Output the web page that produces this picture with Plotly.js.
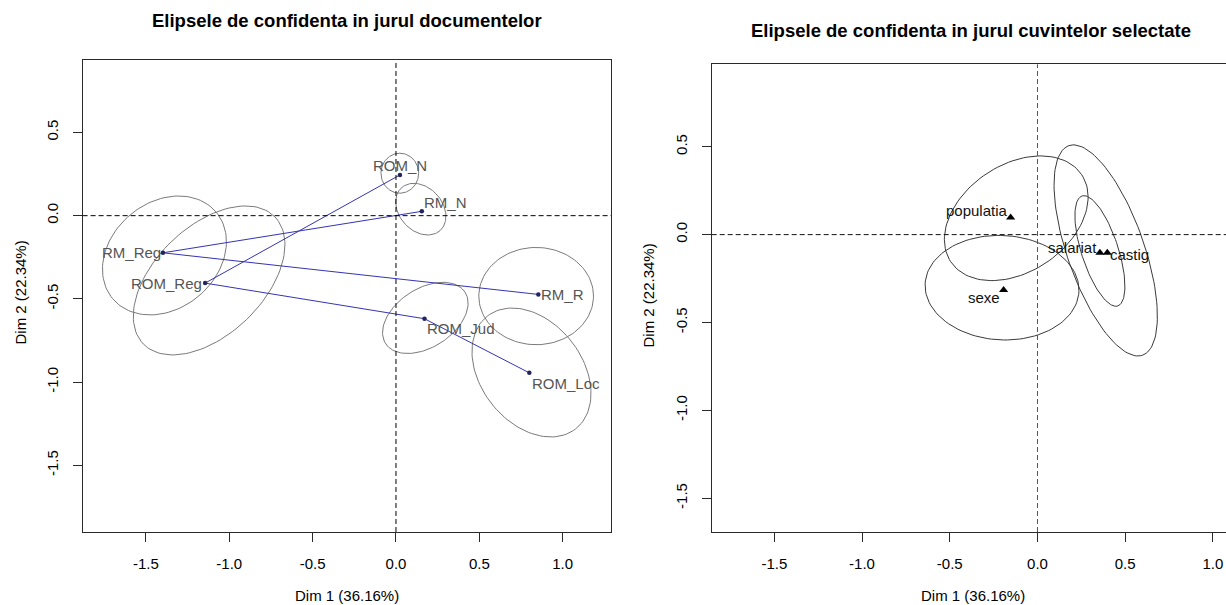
<!DOCTYPE html>
<html>
<head>
<meta charset="utf-8">
<script src="https://cdn.plot.ly/plotly-3.0.1.min.js"></script>
<style>html,body{margin:0;padding:0;background:#fff;}#chart{width:1226px;height:605px;}</style>
</head>
<body>
<div id="chart"></div>
<script>
// ---------- DATA ----------
// Left panel: documents
const docNames = ['ROM_N', 'RM_N', 'RM_Reg', 'ROM_Reg', 'RM_R', 'ROM_Jud', 'ROM_Loc'];
const docX = [0.024, 0.155, -1.398, -1.145, 0.854, 0.171, 0.800];
const docY = [0.245, 0.026, -0.223, -0.405, -0.473, -0.619, -0.944];
const docLinkFrom = ['ROM_Reg', 'RM_Reg', 'RM_Reg', 'ROM_Reg', 'ROM_Jud'];
const docLinkTo   = ['ROM_N',   'RM_N',   'RM_R',   'ROM_Jud', 'ROM_Loc'];
// confidence ellipses: centre, semi-axes, orientation (degrees)
const docEllCx    = [0.023, 0.149, -1.389, -1.121, 0.841, 0.176, 0.813];
const docEllCy    = [0.255, 0.039, -0.239, -0.389, -0.483, -0.614, -0.942];
const docEllA     = [0.120, 0.173, 0.405, 0.549, 0.344, 0.284, 0.430];
const docEllB     = [0.113, 0.130, 0.319, 0.325, 0.292, 0.176, 0.304];
const docEllAngle = [90, -48, 40, 44, 0, 33, -52];

// Right panel: selected words
const wordNames = ['populatia', 'sexe', 'salariat', 'castig'];
const wordX = [-0.153, -0.193, 0.356, 0.398];
const wordY = [0.098, -0.315, -0.103, -0.103];
const wordEllCx    = [-0.121, -0.202, 0.356, 0.389];
const wordEllCy    = [0.093, -0.302, -0.093, -0.090];
const wordEllA     = [0.448, 0.439, 0.329, 0.632];
const wordEllB     = [0.305, 0.297, 0.105, 0.219];
const wordEllAngle = [33.5, -3, -72, -70.6];

// Axes ticks
const xTickVals = [-1.5, -1.0, -0.5, 0.0, 0.5, 1.0];
const xTickText = ['-1.5', '-1.0', '-0.5', '0.0', '0.5', '1.0'];
const yTickVals = [-1.5, -1.0, -0.5, 0.0, 0.5];
const yTickText = ['-1.5', '-1.0', '-0.5', '0.0', '0.5'];

const titleLeft = 'Elipsele de confidenta in jurul documentelor';
const titleRight = 'Elipsele de confidenta in jurul cuvintelor selectate';
const xTitle = 'Dim 1 (36.16%)';
const yTitle = 'Dim 2 (22.34%)';

// ---------- STYLE / LAYOUT ----------
const W = 1226, H = 605;
const FONT = 'Liberation Sans, Arial, sans-serif';
const leftBox  = {l: 82.6, r: 611, t: 60, b: 532};
const rightBox = {l: 711.7, r: 1226, t: 64.3, b: 532};
const docLabelPos = {
  'ROM_N':   {xanchor: 'center', xshift: 0,  yshift: 9},
  'RM_N':    {xanchor: 'left',   xshift: 1,  yshift: 9},
  'RM_Reg':  {xanchor: 'right',  xshift: -1, yshift: 0},
  'ROM_Reg': {xanchor: 'right',  xshift: -2, yshift: 0},
  'RM_R':    {xanchor: 'left',   xshift: 2,  yshift: 0},
  'ROM_Jud': {xanchor: 'left',   xshift: 2,  yshift: -10},
  'ROM_Loc': {xanchor: 'left',   xshift: 2,  yshift: -11}
};
const wordLabelPos = {
  'populatia': {xanchor: 'right', xshift: -2, yshift: 7},
  'sexe':      {xanchor: 'right', xshift: -3, yshift: -8},
  'salariat':  {xanchor: 'right', xshift: -2, yshift: 5},
  'castig':    {xanchor: 'left',  xshift: 2,  yshift: -2}
};

function ellipsePath(cx, cy, a, b, angDeg) {
  const n = 120, th = angDeg * Math.PI / 180;
  const xs = [], ys = [];
  for (let i = 0; i <= n; i++) {
    const t = 2 * Math.PI * i / n;
    const u = a * Math.cos(t), v = b * Math.sin(t);
    xs.push(cx + u * Math.cos(th) - v * Math.sin(th));
    ys.push(cy + u * Math.sin(th) + v * Math.cos(th));
  }
  return {xs, ys};
}

const traces = [];
// left ellipses
for (let i = 0; i < docEllCx.length; i++) {
  const e = ellipsePath(docEllCx[i], docEllCy[i], docEllA[i], docEllB[i], docEllAngle[i]);
  traces.push({x: e.xs, y: e.ys, xaxis: 'x', yaxis: 'y', mode: 'lines',
    line: {color: '#7a7a7a', width: 1}, hoverinfo: 'skip', showlegend: false});
}
// left links
const lx = [], ly = [];
for (let i = 0; i < docLinkFrom.length; i++) {
  const a = docNames.indexOf(docLinkFrom[i]), b = docNames.indexOf(docLinkTo[i]);
  lx.push(docX[a], docX[b], null); ly.push(docY[a], docY[b], null);
}
traces.push({x: lx, y: ly, xaxis: 'x', yaxis: 'y', mode: 'lines',
  line: {color: '#3434b4', width: 1}, hoverinfo: 'skip', showlegend: false});
// left points
traces.push({x: docX, y: docY, xaxis: 'x', yaxis: 'y', mode: 'markers',
  marker: {color: '#23235e', size: 4.5, symbol: 'circle'}, hoverinfo: 'skip', showlegend: false});
// right ellipses
for (let i = 0; i < wordEllCx.length; i++) {
  const e = ellipsePath(wordEllCx[i], wordEllCy[i], wordEllA[i], wordEllB[i], wordEllAngle[i]);
  traces.push({x: e.xs, y: e.ys, xaxis: 'x2', yaxis: 'y2', mode: 'lines',
    line: {color: '#3a3a3a', width: 1}, hoverinfo: 'skip', showlegend: false});
}
// right points
traces.push({x: wordX, y: wordY, xaxis: 'x2', yaxis: 'y2', mode: 'markers',
  marker: {color: '#000', size: 8, symbol: 'triangle-up'}, hoverinfo: 'skip', showlegend: false});

const annotations = [];
docNames.forEach((n, i) => {
  const p = docLabelPos[n];
  annotations.push({xref: 'x', yref: 'y', x: docX[i], y: docY[i], text: n, showarrow: false,
    xanchor: p.xanchor, yanchor: 'middle', xshift: p.xshift, yshift: p.yshift,
    borderpad: 0, font: {family: FONT, size: 15, color: '#555555'}});
});
wordNames.forEach((n, i) => {
  const p = wordLabelPos[n];
  annotations.push({xref: 'x2', yref: 'y2', x: wordX[i], y: wordY[i], text: n, showarrow: false,
    xanchor: p.xanchor, yanchor: 'middle', xshift: p.xshift, yshift: p.yshift,
    borderpad: 0, font: {family: FONT, size: 15, color: '#111111'}});
});
function paperText(text, px, py, size, angle) {
  return {xref: 'paper', yref: 'paper', x: px / W, y: 1 - py / H, text: text, showarrow: false,
    xanchor: 'center', yanchor: 'middle', textangle: angle || 0, borderpad: 0,
    font: {family: FONT, size: size, color: '#000'}};
}
annotations.push(paperText('<b>' + titleLeft + '</b>', (leftBox.l + leftBox.r) / 2, 20, 18.5));
annotations.push(paperText('<b>' + titleRight + '</b>', 971, 30, 18.5));
annotations.push(paperText(xTitle, (leftBox.l + leftBox.r) / 2, 595, 15));
annotations.push(paperText(xTitle, 973, 595, 15));
annotations.push(paperText(yTitle, 19.5, 293, 15, -90));
annotations.push(paperText(yTitle, 648.5, 295, 15, -90));

function axisCommon() {
  return {showgrid: false, zeroline: false, showline: true, linecolor: '#2a2a2a', linewidth: 1,
    ticks: 'outside', ticklen: 9, tickcolor: '#2a2a2a', tickwidth: 1,
    tickfont: {family: FONT, size: 15, color: '#000'}, ticklabelstandoff: 9, fixedrange: true};
}
const layout = {
  width: W, height: H, margin: {l: 0, r: 0, t: 0, b: 0, pad: 0},
  paper_bgcolor: '#fff', plot_bgcolor: '#fff', showlegend: false,
  xaxis: Object.assign(axisCommon(), {domain: [leftBox.l / W, leftBox.r / W], range: [-1.88, 1.29],
    anchor: 'y', mirror: true, tickmode: 'array', tickvals: xTickVals, ticktext: xTickText}),
  yaxis: Object.assign(axisCommon(), {domain: [1 - leftBox.b / H, 1 - leftBox.t / H], range: [-1.90, 0.935],
    anchor: 'x', mirror: true, tickmode: 'array', tickvals: yTickVals, ticktext: yTickText, tickangle: -90}),
  xaxis2: Object.assign(axisCommon(), {domain: [rightBox.l / W, 1], range: [-1.857, 1.0747],
    anchor: 'y2', mirror: true, tickmode: 'array', tickvals: xTickVals, ticktext: xTickText}),
  yaxis2: Object.assign(axisCommon(), {domain: [1 - rightBox.b / H, 1 - rightBox.t / H], range: [-1.692, 0.969],
    anchor: 'x2', mirror: false, tickmode: 'array', tickvals: yTickVals, ticktext: yTickText, tickangle: -90}),
  shapes: [
    {type: 'line', xref: 'x', yref: 'y domain', x0: 0, x1: 0, y0: 0, y1: 1, line: {color: '#000', width: 1, dash: '5px,3px'}},
    {type: 'line', xref: 'x domain', yref: 'y', x0: 0, x1: 1, y0: 0, y1: 0, line: {color: '#000', width: 1, dash: '5px,3px'}},
    {type: 'line', xref: 'x2', yref: 'y2 domain', x0: 0, x1: 0, y0: 0, y1: 1, line: {color: '#555', width: 1, dash: '5px,3px'}},
    {type: 'line', xref: 'x2 domain', yref: 'y2', x0: 0, x1: 1, y0: 0, y1: 0, line: {color: '#111', width: 1, dash: '5px,3px'}}
  ],
  annotations: annotations
};
Plotly.newPlot('chart', traces, layout, {displayModeBar: false, staticPlot: true});
</script>
</body>
</html>
